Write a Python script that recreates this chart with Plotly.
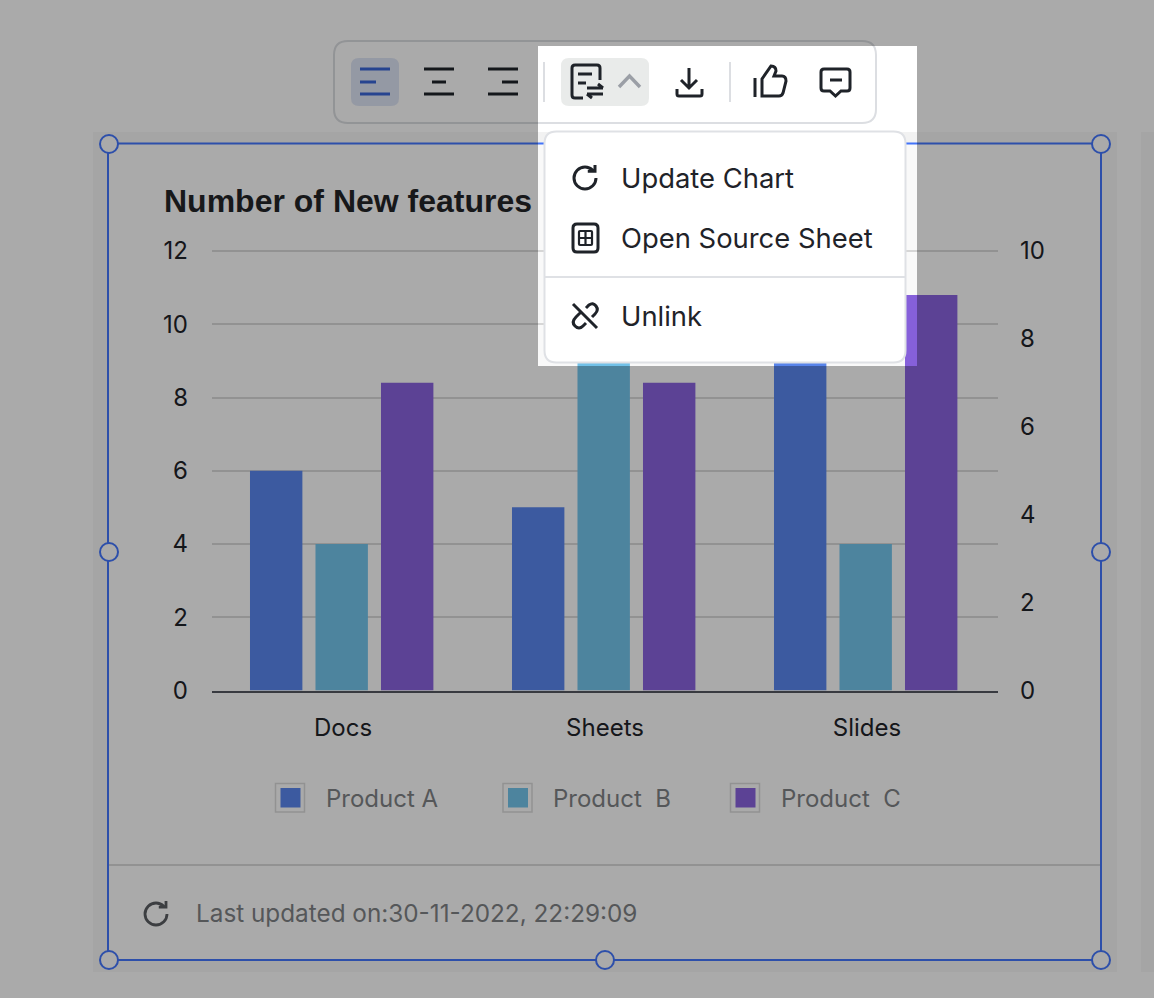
import plotly.graph_objects as go

W, H = 1154, 998

categories = ["Docs", "Sheets", "Slides"]
product_names = ["Product A", "Product  B", "Product  C"]
product_a = [6, 5, 9]
product_b = [4, 9, 4]
product_c = [7, 7, 9]  # read against the right axis
colors = ["#5b88f0", "#74c6ee", "#8a63e0"]

left_ticks = [0, 2, 4, 6, 8, 10, 12]
right_ticks = [0, 2, 4, 6, 8, 10]

title = "Number of New features"
menu_items = ["Update Chart", "Open Source Sheet", "Unlink"]
footer = "Last updated on:30-11-2022, 22:29:09"

FONT = "Inter"
INK = "#1f2329"
BLUE = "#4477ff"


def px_rect(x0, y0, x1, y1, fill, line="rgba(0,0,0,0)", width=0):
    return dict(type="rect", xref="x3", yref="y3", x0=x0, y0=y0, x1=x1, y1=y1,
                fillcolor=fill, line=dict(color=line, width=width), layer="above")


def back_rect(x0, y0, x1, y1, fill):
    # paper refs so these stay under the bars
    return dict(type="rect", xref="paper", yref="paper", x0=x0 / W, x1=x1 / W,
                y0=1 - y0 / H, y1=1 - y1 / H, fillcolor=fill, line=dict(width=0), layer="below")


def round_rect(x0, y0, x1, y1, r):
    return (f"M{x0 + r},{y0} H{x1 - r} Q{x1},{y0} {x1},{y0 + r} V{y1 - r} Q{x1},{y1} {x1 - r},{y1} "
            f"H{x0 + r} Q{x0},{y1} {x0},{y1 - r} V{y0 + r} Q{x0},{y0} {x0 + r},{y0} Z")


def path(d, color=INK, width=3, fill="rgba(0,0,0,0)"):
    return dict(type="path", xref="x3", yref="y3", path=d, fillcolor=fill,
                line=dict(color=color, width=width), layer="above")


def circle(cx, cy, r, fill, line, width=2):
    return dict(type="circle", xref="x3", yref="y3", x0=cx - r, x1=cx + r, y0=cy - r, y1=cy + r,
                fillcolor=fill, line=dict(color=line, width=width), layer="above")


def refresh(cx, cy, r=11):
    k = r * 0.552
    a = r * 0.707
    return (f"M{cx + a},{cy - a} C{cx + a - 2},{cy - a - 2} {cx + 3},{cy - r} {cx},{cy - r} "
            f"C{cx - k},{cy - r} {cx - r},{cy - k} {cx - r},{cy} "
            f"C{cx - r},{cy + k} {cx - k},{cy + r} {cx},{cy + r} "
            f"C{cx + k},{cy + r} {cx + r},{cy + k} {cx + r},{cy} "
            f"M{cx + r - 1},{cy - r - 2} V{cy - a + 1} H{cx + a - 5}")


def label(x, y, text, size, color, anchor="left"):
    return dict(xref="x3", yref="y3", x=x, y=y, text=text, showarrow=False, xanchor=anchor,
                yanchor="middle", font=dict(family=FONT, size=size, color=color))


fig = go.Figure()
# every bar keeps its own offset since C sits on the second y axis
for name, values, color, axis, offset in [
    (product_names[0], product_a, colors[0], "y", -0.355),
    (product_names[1], product_b, colors[1], "y", -0.105),
    (product_names[2], product_c, colors[2], "y2", 0.145),
]:
    fig.add_trace(go.Bar(x=categories, y=values, name=name, yaxis=axis, width=0.2, offset=offset,
                         marker=dict(color=color, line=dict(width=0))))

shapes = [
    back_rect(93, 132, 1117, 972, "#f8f8f8"),
    back_rect(108, 144, 1102, 960, "#ffffff"),
    back_rect(1141, 132, 1160, 972, "#f8f8f8"),
]

# footer and selection frame
shapes.append(px_rect(108, 864, 1102, 866, "#dcdcdc"))
shapes.append(path(refresh(156, 914), "#5a5d62", 2.8))
shapes.append(px_rect(108, 143.5, 1101, 960, "rgba(0,0,0,0)", BLUE, 2))
for cx, cy in [(109, 144), (1101, 144), (109, 552), (1101, 552), (109, 960), (605, 960), (1101, 960)]:
    shapes.append(circle(cx, cy, 9, "#ffffff", BLUE))

# legend swatches
for color, x0 in zip(colors, [275.5, 503, 730.5]):
    shapes.append(px_rect(x0, 783.5, x0 + 29, 812, "#ffffff", "#dcdcdc", 1.5))
    shapes.append(px_rect(x0 + 5, 788, x0 + 25, 807.5, color))

# toolbar
shapes.append(path(round_rect(334, 41, 876, 123, 14), "#dcdee2", 2, "#ffffff"))
shapes.append(path(round_rect(351, 58, 399, 106, 8), "rgba(0,0,0,0)", 0, "#dfe6f6"))
shapes.append(path(round_rect(561, 58, 649, 106, 8), "rgba(0,0,0,0)", 0, "#e9ebea"))
shapes.append(path("M360,69 H390 M360,82 H376 M360,94 H390", "#3a66d8", 3))
shapes.append(path("M424,69 H454 M432,82 H446 M424,94 H454"))
shapes.append(path("M488,69 H518 M502,82 H518 M488,94 H518"))
shapes.append(px_rect(543, 62, 545, 102, "#dcdee2"))
shapes.append(px_rect(729, 62, 731, 102, "#dcdee2"))
shapes.append(path("M600,80 V68 Q600,65 597,65 H575 Q572,65 572,68 V95 Q572,98 575,98 H583 "
                   "M578,74 H592 M578,83 H586"))
shapes.append(path("M587,88 H603 M598,84 L603,88 M603,94 H587 M592,98 L587,94"))
shapes.append(path("M619,87 L629.5,76 L640,87", "#9b9fa6", 3.4))
shapes.append(path("M689,68 V88 M681,80 L689,88 L697,80 "
                   "M677,89 V94 Q677,96 679,96 H700 Q702,96 702,94 V89"))
shapes.append(path("M755,78 V97 M762,96 H779 Q782,96 783,93 L786,81 Q786,76 782,76 H774 "
                   "L776,71 Q776,66 771,66 L762,79 Z"))
shapes.append(path("M824,69 H847 Q850,69 850,72 V88 Q850,91 847,91 H841 L835.5,96 L830,91 H824 "
                   "Q821,91 821,88 V72 Q821,69 824,69 Z M830,80 H842"))

# dropdown menu
shapes.append(px_rect(538, 132, 917, 366, "rgba(0,0,0,0.025)"))
shapes.append(path(round_rect(544.5, 131.5, 905.5, 362.5, 12), "#dfe1e5", 2, "#ffffff"))
shapes.append(px_rect(545, 276, 905, 278, "#dfe1e5"))
shapes.append(path(refresh(585, 178)))
shapes.append(path(round_rect(573, 224, 598, 252, 4)))
shapes.append(path(round_rect(579, 231, 592, 245, 1) + " M585.5,231 V245 M579,238 H592", width=2.2))
shapes.append(path("M573,304 L597,328 M586,308 L589,305 Q593,302 596,306 Q599,310 595,314 L592,317 "
                   "M580,313 L576,317 Q571,322 575,326 Q579,330 583,326 L586,323"))

# everything except the menu area is dimmed
shapes.append(dict(type="path", xref="x3", yref="y3", path="M0,0 H1154 V998 H0 Z M538,46 H917 V366 H538 Z",
                   fillcolor="rgba(0,0,0,0.335)", line=dict(width=0), layer="above"))

annotations = [label(619, 178, menu_items[0], 27.4, INK),
               label(619, 238, menu_items[1], 27.4, INK),
               label(619, 316, menu_items[2], 27.4, INK),
               label(194, 913, footer, 24.3, "#555759")]
for name, x in zip(product_names, [324, 551, 779]):
    annotations.append(label(x, 798, name.replace(" ", "\u00a0"), 24, "#555759"))

# plot area runs a little past 12 so the top gridline is not clipped at the axis end
plot_domain = [1 - 690.5 / H, 1 - 248.8 / H]

fig.update_layout(
    width=W, height=H, autosize=False,
    margin=dict(l=0, r=0, t=0, b=0, autoexpand=False),
    paper_bgcolor="#ffffff", plot_bgcolor="rgba(0,0,0,0)",
    showlegend=False,
    font=dict(family=FONT, color=INK, size=24),
    title=dict(text=f"<b>{title}</b>", x=164 / W, xref="paper", xanchor="left",
               y=1 - 201 / H, yref="paper", yanchor="middle",
               font=dict(family="Liberation Sans", size=32, color="#17181a")),
    xaxis=dict(domain=[212 / W, 998 / W], range=[-0.5, 2.5], type="category",
               showgrid=False, showline=True, linecolor="#555860", linewidth=2,
               ticks="", ticklabelstandoff=15, anchor="y"),
    yaxis=dict(domain=plot_domain, range=[0, 12.06], tickvals=left_ticks,
               gridcolor="#dcdcdc", gridwidth=2, zeroline=False, ticks="", ticklabelstandoff=23,
               anchor="x"),
    yaxis2=dict(domain=plot_domain, range=[0, 10.05], tickvals=right_ticks,
                overlaying="y", side="right", showgrid=False, zeroline=False, ticks="",
                ticklabelstandoff=21, anchor="x"),
    xaxis3=dict(domain=[0, 1], range=[0, W], visible=False, anchor="y3", fixedrange=True),
    yaxis3=dict(domain=[0, 1], range=[H, 0], visible=False, anchor="x3", fixedrange=True),
    shapes=shapes,
    annotations=annotations,
)

fig.write_html("out.html", config=dict(displayModeBar=False),
               post_script="document.body.style.margin='0';document.body.style.overflow='hidden';")
